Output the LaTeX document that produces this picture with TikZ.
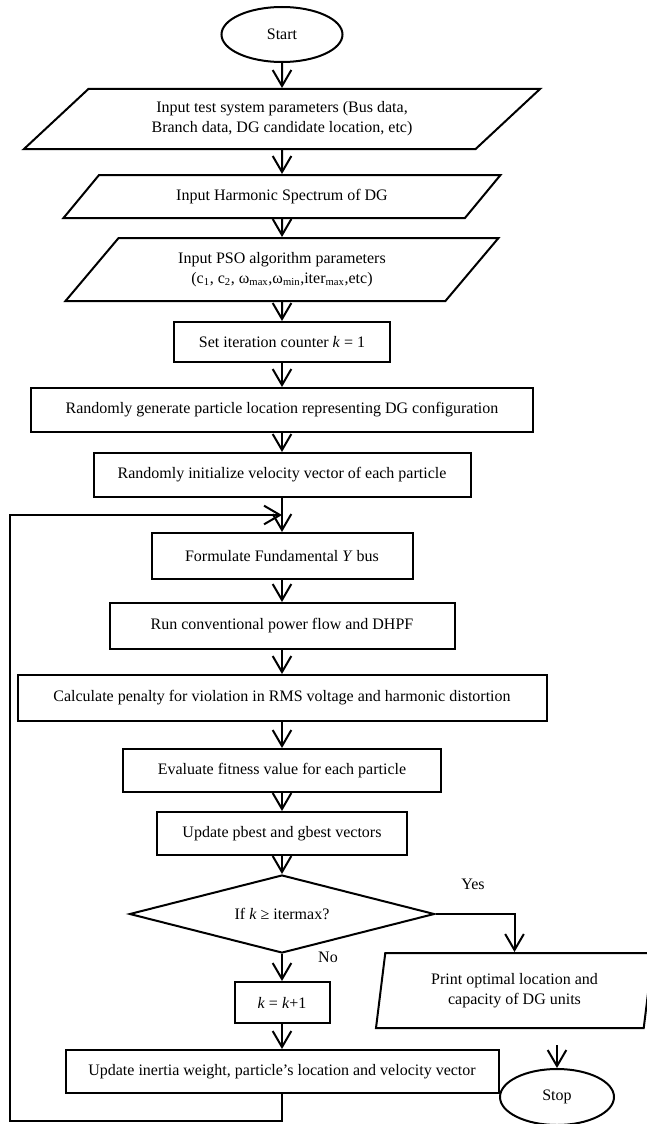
\documentclass[tikz,border=0pt]{standalone}
\usepackage{fontspec}
\setmainfont{Liberation Serif}
\usetikzlibrary{arrows.meta,shapes.geometric}
\tikzset{box/.style={draw, rectangle, inner sep=2pt, align=center},
  io/.style={draw, trapezium, trapezium left angle=#1,
    trapezium right angle=180-#1, trapezium stretches body,
    inner sep=1pt, align=center},
  term/.style={draw, ellipse, inner sep=0pt},
  lbl/.style={draw=none, inner sep=1pt}}

\begin{document}
\begin{tikzpicture}[x=0.75pt, y=-0.75pt, line width=1.5pt,
  >={Straight Barb[length=12pt, width=14pt]},
  every node/.style={font=\fontsize{12}{15}\selectfont}]
  \useasboundingbox (0,0) rectangle (646,1124);
  \node[term, minimum width=90.75pt, minimum height=41.25pt] (start) at (282, 34.5) {Start};
  \node[io=30, minimum width=387pt, minimum height=45pt] (par1) at (282, 119)
    {Input test system parameters (Bus data,\\ Branch data, DG candidate location, etc)};
  \node[io=26, minimum width=327.75pt, minimum height=32.25pt] (par2) at (282, 196.5)
    {Input Harmonic Spectrum of DG};
  \node[io=35, minimum width=324.75pt, minimum height=47.25pt] (par3) at (282, 269.5)
    {Input PSO algorithm parameters\\ (c\textsubscript{1}, c\textsubscript{2}, ω\textsubscript{max},ω\textsubscript{min},iter\textsubscript{max},etc)};
  \node[box, minimum width=162pt, minimum height=30pt] (setk) at (282, 342)
    {Set iteration counter \textit{k} = 1};
  \node[box, minimum width=376.5pt, minimum height=33pt] (gen) at (282, 410)
    {Randomly generate particle location representing DG configuration};
  \node[box, minimum width=282.75pt, minimum height=33pt] (init) at (282, 475)
    {Randomly initialize velocity vector of each particle};
  \node[box, minimum width=195.75pt, minimum height=34.5pt] (form) at (282, 556)
    {Formulate Fundamental \textit{Y} bus};
  \node[box, minimum width=258.75pt, minimum height=34.5pt] (run) at (282, 626)
    {Run conventional power flow and DHPF};
  \node[box, minimum width=396.75pt, minimum height=34.5pt] (calc) at (282, 698)
    {Calculate penalty for violation in RMS voltage and harmonic distortion};
  \node[box, minimum width=238.5pt, minimum height=32.25pt] (eval) at (282, 770.5)
    {Evaluate fitness value for each particle};
  \node[box, minimum width=187.5pt, minimum height=32.25pt] (pbest) at (282, 833.5)
    {Update pbest and gbest vectors};
  \node[draw, diamond, aspect=3.9, inner sep=1pt, minimum width=228.75pt,
    minimum height=58.5pt] (dec) at (282, 914) {If \textit{k} ≥ itermax?};
  \node[box, minimum width=71.25pt, minimum height=30.75pt] (inc) at (282, 1002.5)
    {\textit{k} = \textit{k}+1};
  \node[box, minimum width=324.75pt, minimum height=32.25pt] (upd) at (282, 1071.5)
    {Update inertia weight, particle’s location and velocity vector};
  \node[io=76, minimum width=207.75pt, minimum height=56.25pt] (prt) at (514.5, 990.5)
    {Print optimal location and\\ capacity of DG units};
  \node[term, minimum width=85.5pt, minimum height=42pt] (stop) at (557, 1097) {Stop};
  \node[lbl] (yes) at (473, 884) {Yes};
  \node[lbl] (no) at (328, 957) {No};
  % main flow
  \draw[->] (start) -- (par1);
  \draw[->] (par1) -- (par2);
  \draw[->] (par2) -- (par3);
  \draw[->] (par3) -- (setk);
  \draw[->] (setk) -- (gen);
  \draw[->] (gen) -- (init);
  \draw[->] (init) -- (form);
  \draw[->] (form) -- (run);
  \draw[->] (run) -- (calc);
  \draw[->] (calc) -- (eval);
  \draw[->] (eval) -- (pbest);
  \draw[->] (pbest) -- (dec);
  \draw[->] (dec) -- (inc);
  \draw[->] (inc) -- (upd);
  % exit branch
  \draw[->] (dec.east) -| (prt.north -| prt.center);
  \coordinate (pout) at (557, 1045);
  \draw[->] (pout) -- (stop);
  % loop back
  \coordinate (lb) at (10, 1121);
  \coordinate (lt) at (10, 515);
  \coordinate (lin) at (282, 515);
  \draw[->] (upd.south) |- (lb) -- (lt) -- (lin);
\end{tikzpicture}
\end{document}
